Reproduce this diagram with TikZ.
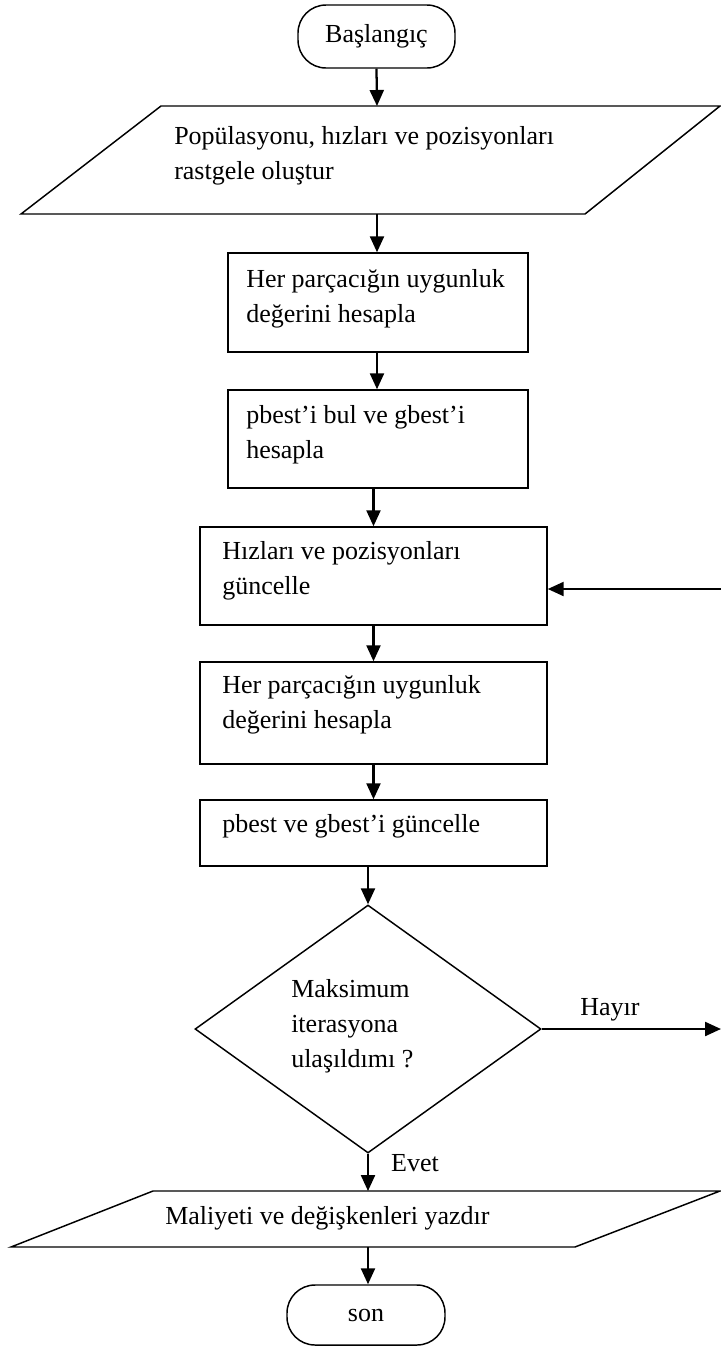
\documentclass[tikz,border=0pt]{standalone}
\usepackage{fontspec}
\setmainfont{Liberation Serif}
\usetikzlibrary{arrows.meta,shapes.geometric}
\begin{document}
\begin{tikzpicture}[x=0.75pt,y=-0.75pt,
  shp/.style={draw=black,line width=1.1pt},
  boxn/.style={shp,rectangle,inner sep=0},
  term/.style={shp,rectangle,rounded corners=21pt,inner sep=0,font=\fontsize{19.5pt}{26.25pt}\selectfont},
  txt/.style={font=\fontsize{19.5pt}{26.25pt}\selectfont,inner sep=0,align=left,anchor=west},
  lbl/.style={font=\fontsize{19.5pt}{26.25pt}\selectfont,inner sep=0},
  arr/.style={line width=1.7pt,-{Triangle[length=12pt,width=10.5pt]}}]
\useasboundingbox (0,0) rectangle (721,1347);

% start
\node[term,minimum width=117.75pt,minimum height=47.25pt] (start) at (376.5,36.5) {Başlangıç};

% parallelogram 1
\draw[shp] (161,106) -- (720,106) -- (585,214) -- (21,214) -- cycle;
\coordinate (p1top) at (377,106);
\coordinate (p1bot) at (377,214);
\node[txt] (t1) at (174,156) {Popülasyonu, hızları ve pozisyonları\\rastgele oluştur};

% box 2
\node[boxn,minimum width=225pt,minimum height=74.25pt] (b2) at (378,302.5) {};
\node[txt] (t2) at (246,299) {Her parçacığın uygunluk\\değerini hesapla};

% box 3
\node[boxn,minimum width=225pt,minimum height=73.5pt] (b3) at (378,439) {};
\node[txt] (t3) at (246,435) {pbest’i bul ve gbest’i\\hesapla};

% box 4
\node[boxn,minimum width=260.25pt,minimum height=73.5pt] (b4) at (373.5,576) {};
\node[txt] (t4) at (222,571) {Hızları ve pozisyonları\\güncelle};

% box 5
\node[boxn,minimum width=260.25pt,minimum height=76.5pt] (b5) at (373.5,713) {};
\node[txt] (t5) at (222,705) {Her parçacığın uygunluk\\değerini hesapla};

% box 6
\node[boxn,minimum width=260.25pt,minimum height=49.5pt] (b6) at (373.5,833) {};
\node[txt] (t6) at (222,826) {pbest ve gbest’i güncelle};

% diamond
\node[shp,diamond,minimum width=259.5pt,minimum height=186pt,inner sep=0] (dia) at (368,1029) {};
\node[txt] (t7) at (291,1026) {Maksimum\\iterasyona\\ulaşıldımı ?};

% parallelogram 2
\draw[shp] (153,1191) -- (720,1191) -- (575,1247) -- (11,1247) -- cycle;
\coordinate (p2top) at (368,1191);
\coordinate (p2bot) at (368,1247);
\node[txt] (t8) at (165,1218) {Maliyeti ve değişkenleri yazdır};

% end
\node[term,minimum width=118.5pt,minimum height=45pt] (son) at (366,1315) {son};

% labels
\node[lbl] (hayir) at (610,1010) {Hayır};
\node[lbl] (evet) at (415,1163) {Evet};

% loop coordinates
\coordinate (loopout) at (721,1029);
\coordinate (loopin) at (721,589);

% connectors
\draw[arr] (start.south) -- (p1top);
\draw[arr] (p1bot) -- (b2.north -| p1bot);
\draw[arr] (b2.south -| p1bot) -- (b3.north -| p1bot);
\draw[arr] (b3.south -| b4.north) -- (b4.north);
\draw[arr] (b4.south) -- (b5.north);
\draw[arr] (b5.south) -- (b6.north);
\draw[arr] (b6.south -| dia.north) -- (dia.north);
\draw[arr] (dia.south) -- (p2top);
\draw[arr] (p2bot) -- (son.north -| p2bot);
\draw[arr] (dia.east) -- (loopout);
\draw[arr] (loopin) -- (loopin -| b4.east);
\end{tikzpicture}
\end{document}
